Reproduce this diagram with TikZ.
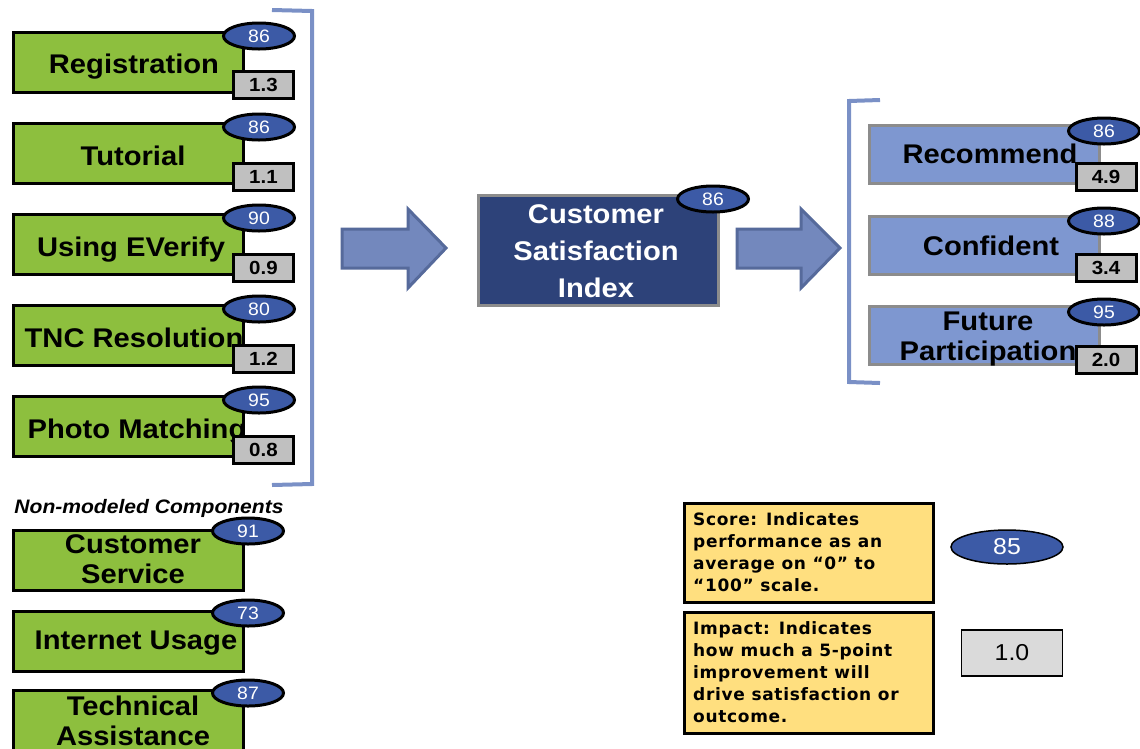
\documentclass[tikz,border=0pt]{standalone}
\usepackage{fontspec}
\setmainfont{Liberation Sans}[FakeStretch=1.08]
\newfontfamily\legfont{DejaVu Sans}[LetterSpace=4]
\usetikzlibrary{shapes.geometric}
\definecolor{greenc}{RGB}{141,191,62}
\definecolor{scorec}{RGB}{60,90,166}
\definecolor{impc}{RGB}{192,192,192}
\definecolor{legimpc}{RGB}{218,218,218}
\definecolor{navyc}{RGB}{45,66,121}
\definecolor{outc}{RGB}{126,151,208}
\definecolor{boxgray}{RGB}{140,140,140}
\definecolor{arrowc}{RGB}{115,136,189}
\definecolor{arrowb}{RGB}{86,106,155}
\definecolor{brackc}{RGB}{122,144,198}
\definecolor{yellowc}{RGB}{255,223,127}
\begin{document}
\begin{tikzpicture}[x=1pt,y=-1pt,
  gbox/.style={draw=black,line width=3pt,fill=greenc,minimum width=230pt,minimum height=60pt,inner sep=0pt,anchor=north west},
  obox/.style={draw=boxgray,line width=3pt,fill=outc,minimum width=230pt,minimum height=58pt,inner sep=0pt,anchor=north west},
  btext/.style={font=\fontsize{27}{30}\selectfont\bfseries,anchor=base,inner sep=0pt,align=center},
  ctext/.style={font=\fontsize{27}{30}\selectfont\bfseries,anchor=base,inner sep=0pt,text=white},
  score/.style={ellipse,draw=black,line width=3pt,fill=scorec,minimum width=71pt,minimum height=26pt,inner sep=0pt,text=white,font=\fontsize{18}{18}\selectfont},
  imp/.style={draw=black,line width=3pt,fill=impc,minimum width=60pt,minimum height=27pt,inner sep=0pt,font=\fontsize{19}{19}\selectfont\bfseries},
  bracket/.style={draw=brackc,line width=4pt},
  blockarrow/.style={draw=arrowb,line width=3pt,fill=arrowc,line join=miter},
  legbox/.style={draw=black,line width=2.5pt,fill=yellowc,anchor=north west,inner sep=0pt},
  legtext/.style={font=\legfont\fontsize{17}{22}\selectfont\bfseries,align=left,anchor=north west,inner sep=0pt}
]
\useasboundingbox (0,0) rectangle (1140,748);
\clip (0,0) rectangle (1140,748);
% ---- modeled components
\node[gbox] (reg) at (11.5,30.5) {};
\node[gbox] (tut) at (11.5,121.5) {};
\node[gbox] (ver) at (11.5,212.5) {};
\node[gbox] (tnc) at (11.5,303.5) {};
\node[gbox] (pho) at (11.5,394.5) {};
\node[btext] (regt) at (134,73) {Registration};
\node[btext] (tutt) at (133,165) {Tutorial};
\node[btext] (vert) at (131,256) {Using EVerify};
\node[btext] (tnct) at (134,347) {TNC Resolution};
\node[btext] (phot) at (137,438) {Photo Matching};
\node[score] (regs) at (259,36) {86};
\node[score] (tuts) at (259,127) {86};
\node[score] (vers) at (259,218) {90};
\node[score] (tncs) at (259,309) {80};
\node[score] (phos) at (259,400) {95};
\node[imp] (regi) at (263.5,85) {1.3};
\node[imp] (tuti) at (263.5,177) {1.1};
\node[imp] (veri) at (263.5,268) {0.9};
\node[imp] (tnci) at (263.5,359) {1.2};
\node[imp] (phoi) at (263.5,450) {0.8};
\draw[bracket] (272,10) -- (312,11) -- (312,484) -- (272,485);
% ---- non-modeled
\node[font=\fontsize{19.5}{20}\selectfont\bfseries\itshape,anchor=base] (nonm) at (149,513) {Non-modeled Components};
\node[gbox] (cus) at (11.5,528.5) {};
\node[gbox] (int) at (11.5,609.5) {};
\node[gbox] (tec) at (11.5,688.5) {};
\node[btext] (cust) at (133,553) {Customer};
\node[btext] (cust2) at (133,583) {Service};
\node[btext] (intt) at (136,649) {Internet Usage};
\node[btext] (tect) at (133,715) {Technical};
\node[btext] (tect2) at (133,745) {Assistance};
\node[score] (cuss) at (248,531) {91};
\node[score] (ints) at (248,613) {73};
\node[score] (tecs) at (248,693) {87};
% ---- arrows
\draw[blockarrow] (342,229) -- (408,229) -- (408,209) -- (446,248) -- (408,288) -- (408,268) -- (342,268) -- cycle;
\draw[blockarrow] (737,229) -- (801,229) -- (801,209) -- (840,248) -- (801,288) -- (801,268) -- (737,268) -- cycle;
% ---- centre
\node[draw=boxgray,line width=3pt,fill=navyc,minimum width=240pt,minimum height=110pt,anchor=north west,inner sep=0pt] (csi) at (476.5,193.5) {};
\node[ctext] (csit1) at (596,223) {Customer};
\node[ctext] (csit2) at (596,260) {Satisfaction};
\node[ctext] (csit3) at (596,297) {Index};
\node[score] (csis) at (713,199) {86};
% ---- outcomes
\draw[bracket] (880,100) -- (849,101) -- (849,382) -- (880,383);
\node[obox] (rec) at (867.5,123.5) {};
\node[obox] (con) at (867.5,214.5) {};
\node[obox] (fut) at (867.5,304.5) {};
\node[btext] (rect) at (990,163) {Recommend};
\node[btext] (cont) at (991,255) {Confident};
\node[btext] (futt) at (988,330) {Future};
\node[btext] (futt2) at (988,360) {Participation};
\node[score] (recs) at (1104,131) {86};
\node[score] (cons) at (1104,221) {88};
\node[score] (futs) at (1104,312) {95};
\node[imp] (reci) at (1106,177) {4.9};
\node[imp] (coni) at (1106,268) {3.4};
\node[imp] (futi) at (1106,360) {2.0};
% ---- legend
\node[legbox,minimum width=249pt,minimum height=99pt] (lscore) at (683,502) {};
\node[legbox,minimum width=249pt,minimum height=121pt] (limp) at (683,611) {};
\node[legtext] (lscoret) at (693,512) {Score: Indicates\\performance as an\\average on “0” to\\“100” scale.};
\node[legtext] (limpt) at (693,621) {Impact: Indicates\\how much a 5-point\\improvement will\\drive satisfaction or\\outcome.};
\node[ellipse,draw=black,line width=1.5pt,fill=scorec,minimum width=112pt,minimum height=34pt,inner sep=0pt,text=white,font=\fontsize{23}{23}\selectfont] (lsc) at (1007,547) {85};
\node[draw=black,line width=1.5pt,fill=legimpc,minimum width=101pt,minimum height=46pt,inner sep=0pt,font=\fontsize{23}{23}\selectfont] (lim) at (1012,653) {1.0};
\end{tikzpicture}
\end{document}
